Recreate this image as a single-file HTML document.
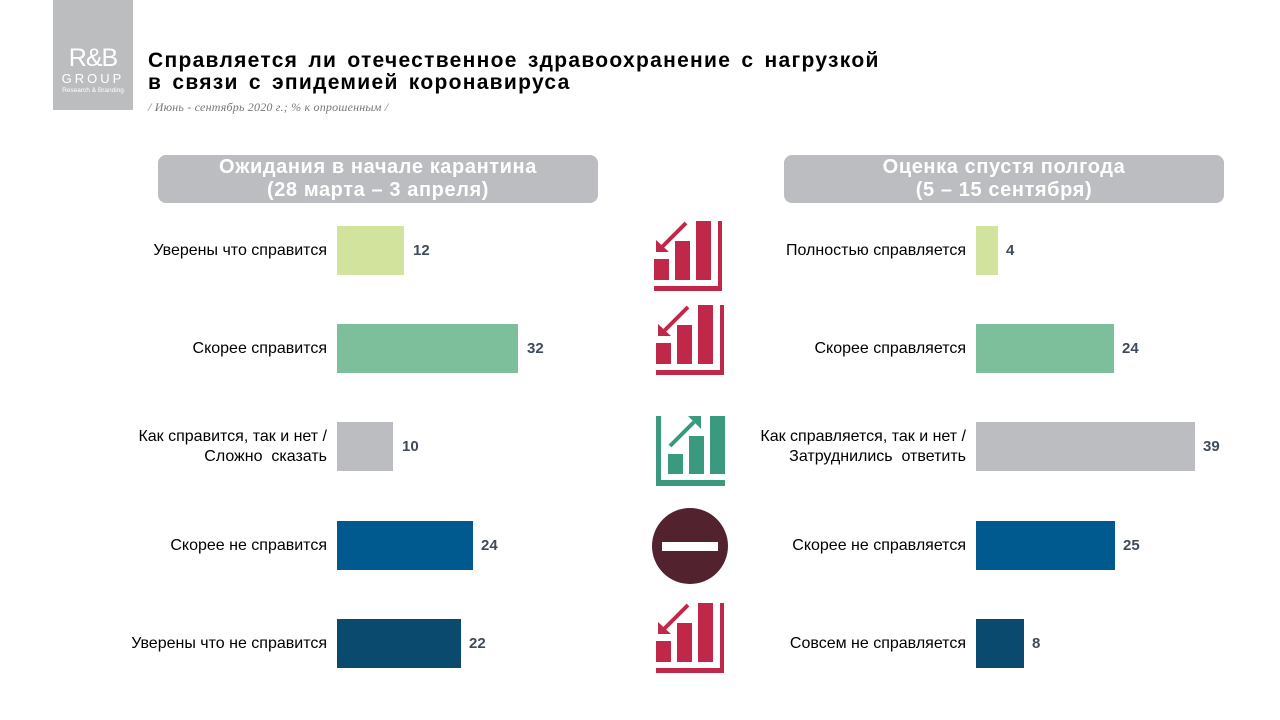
<!DOCTYPE html>
<html><head><meta charset="utf-8"><style>
body{margin:0;width:1280px;height:720px;background:#fff;position:relative;font-family:"Liberation Sans","DejaVu Sans",sans-serif;overflow:hidden}
.a{position:absolute}
.logo{left:53px;top:0;width:80px;height:110px;background:#bcbdbf;color:#fff;text-align:center}
.title{left:148px;top:50px;font-size:21px;font-weight:bold;line-height:22px;color:#000;letter-spacing:1.3px;word-spacing:3px;white-space:nowrap}
.sub{left:148px;top:100px;font-family:"Liberation Serif",serif;font-style:italic;font-size:12px;color:#777;letter-spacing:0.2px}
.hdr{background:#bcbdc0;border-radius:8px;color:#fff;font-weight:bold;font-size:20px;letter-spacing:0.6px;text-align:center;line-height:23px;height:48px;padding-top:1px;box-sizing:border-box}
.lab{font-size:16px;color:#000;text-align:right;line-height:20px;white-space:nowrap}
.val{font-size:15px;font-weight:bold;color:#3f4a5a}
</style></head><body>
<div class="a logo"><div style="margin-top:46px;font-size:25px;line-height:25px;letter-spacing:-1px">R&amp;B</div><div style="font-size:13px;letter-spacing:3px;line-height:15px">GROUP</div><div style="font-size:6.5px;line-height:10px">Research &amp; Branding</div></div>
<div class="a title">Справляется ли отечественное здравоохранение с нагрузкой<br>в связи с эпидемией коронавируса</div>
<div class="a sub">/ Июнь - сентябрь 2020 г.; % к опрошенным /</div>
<div class="a hdr" style="left:158px;top:155px;width:440px">Ожидания в начале карантина<br>(28 марта – 3 апреля)</div>
<div class="a hdr" style="left:784px;top:155px;width:440px">Оценка спустя полгода<br>(5 – 15 сентября)</div>

<div class="a lab" style="right:953px;top:241px">Уверены что справится</div>
<div class="a lab" style="right:953px;top:339px">Скорее справится</div>
<div class="a lab" style="right:953px;top:427px">Как справится, так и нет /<br>Сложно &nbsp;сказать</div>
<div class="a lab" style="right:953px;top:536px">Скорее не справится</div>
<div class="a lab" style="right:953px;top:634px">Уверены что не справится</div>

<div class="a lab" style="right:314px;top:241px">Полностью справляется</div>
<div class="a lab" style="right:314px;top:339px">Скорее справляется</div>
<div class="a lab" style="right:314px;top:427px">Как справляется, так и нет /<br>Затруднились &nbsp;ответить</div>
<div class="a lab" style="right:314px;top:536px">Скорее не справляется</div>
<div class="a lab" style="right:314px;top:634px">Совсем не справляется</div>

<div class="a" style="left:337px;top:226px;width:67px;height:49px;background:#d1e39c"></div>
<div class="a" style="left:337px;top:324px;width:181px;height:49px;background:#7dbf9b"></div>
<div class="a" style="left:337px;top:422px;width:56px;height:49px;background:#bcbdc0"></div>
<div class="a" style="left:337px;top:521px;width:136px;height:49px;background:#005a8f"></div>
<div class="a" style="left:337px;top:619px;width:124px;height:49px;background:#0a4a6e"></div>
<div class="a val" style="left:413px;top:242px">12</div>
<div class="a val" style="left:527px;top:340px">32</div>
<div class="a val" style="left:402px;top:438px">10</div>
<div class="a val" style="left:481px;top:537px">24</div>
<div class="a val" style="left:469px;top:635px">22</div>

<div class="a" style="left:976px;top:226px;width:22px;height:49px;background:#d1e39c"></div>
<div class="a" style="left:976px;top:324px;width:138px;height:49px;background:#7dbf9b"></div>
<div class="a" style="left:976px;top:422px;width:219px;height:49px;background:#bcbdc0"></div>
<div class="a" style="left:976px;top:521px;width:139px;height:49px;background:#005a8f"></div>
<div class="a" style="left:976px;top:619px;width:48px;height:49px;background:#0a4a6e"></div>
<div class="a val" style="left:1006px;top:242px">4</div>
<div class="a val" style="left:1122px;top:340px">24</div>
<div class="a val" style="left:1203px;top:438px">39</div>
<div class="a val" style="left:1123px;top:537px">25</div>
<div class="a val" style="left:1032px;top:635px">8</div>

<svg class="a" style="left:0;top:0" width="1280" height="720">
<defs>
<g id="down">
<rect x="0" y="38" width="15" height="21"/><rect x="21" y="20" width="15" height="39"/><rect x="42" y="0" width="15" height="59"/>
<rect x="64" y="0" width="4" height="70"/><rect x="0" y="65" width="68" height="5"/>
<path d="M32 2 L8 26" stroke-width="4" stroke="#c0284a"/><path d="M2 19 L2 31 L15 31 Z"/>
</g>
</defs>
<g fill="#c0284a"><use href="#down" x="654" y="221"/><use href="#down" x="656" y="305"/><use href="#down" x="656" y="603"/></g>
<g fill="#3a9a80">
<rect x="656" y="416" width="5" height="70"/><rect x="656" y="480" width="69" height="6"/>
<rect x="668" y="454" width="15" height="20"/><rect x="689" y="436" width="15" height="38"/><rect x="710" y="416" width="15" height="58"/>
<path d="M670 446 L694 422" stroke="#3a9a80" stroke-width="4"/><path d="M688 416 L701 416 L701 429 Z"/>
</g>
<circle cx="690" cy="546" r="38" fill="#52222f"/><rect x="662" y="542" width="56" height="9" fill="#fff"/>
</svg>
</body></html>
